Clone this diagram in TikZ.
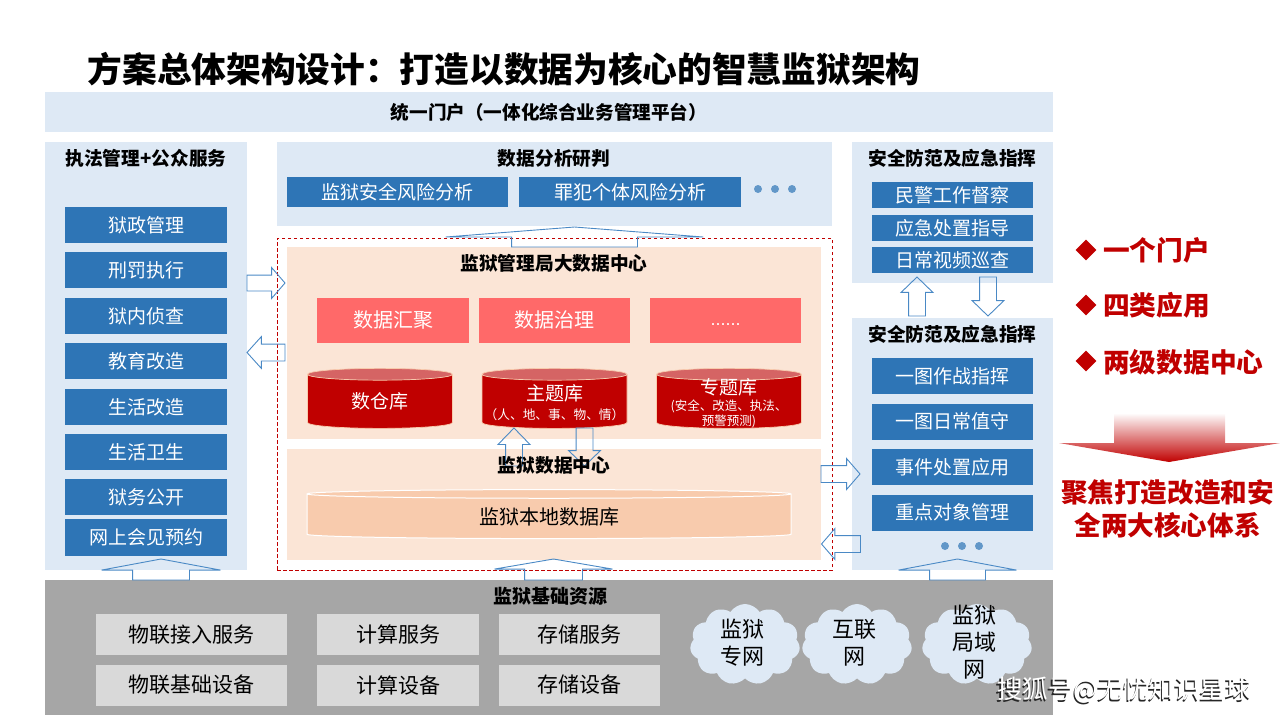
\documentclass[tikz,border=0pt]{standalone}
\usepackage{fontspec}
\setmainfont{Noto Sans CJK SC}
\newfontfamily\latinfont{Liberation Sans}
\usetikzlibrary{shapes.arrows,shapes.geometric,shapes.symbols}
\definecolor{panelblue}{HTML}{DEE9F5}
\definecolor{boxblue}{HTML}{2E75B6}
\definecolor{peach}{HTML}{FBE5D6}
\definecolor{salmon}{HTML}{FF6969}
\definecolor{darkred}{HTML}{C00000}
\definecolor{lightred}{HTML}{D56464}
\definecolor{dbpeach}{HTML}{F8CBAD}
\definecolor{arrowblue}{HTML}{4A89C5}
\definecolor{basegray}{HTML}{A6A6A6}
\definecolor{cellgray}{HTML}{D9D9D9}
\newcommand{\fsz}[1]{\fontsize{#1}{#1}\selectfont}
\newcommand{\storebody}{\phantom{\rule{57pt}{19pt}}}
\tikzset{
  plate/.style 2 args={rectangle,inner sep=0pt,outer sep=0pt,minimum width=#1pt,minimum height=#2pt},
  panel/.style 2 args={plate={#1}{#2},fill=panelblue},
  peachpanel/.style 2 args={plate={#1}{#2},fill=peach},
  bluecell/.style 2 args={plate={#1}{#2},fill=boxblue,text=white,font=\fsz{19}},
  redcell/.style 2 args={plate={#1}{#2},fill=salmon,text=white,font=\fsz{20}},
  graycell/.style 2 args={plate={#1}{#2},fill=cellgray,text=black,font=\fsz{21}},
  heading/.style={inner sep=0pt,font=\fsz{18.7}\bfseries,text=black},
  dot/.style={circle,fill=boxblue!75!white,inner sep=0pt,minimum size=8pt},
  hollow/.style n args={4}{single arrow,draw=arrowblue,line width=0.9pt,inner xsep=0pt,inner ysep={#3/2*1pt},outer sep=0pt,
    minimum height=#1pt,minimum width=#2pt,single arrow head extend={(#2-#3)/2*1pt},
    single arrow tip angle={2*atan(#2/2/#4)},anchor=tip},
  store/.style={cylinder,shape border rotate=90,draw=dbpeach,line width=0.7pt,cylinder uses custom fill,
    cylinder body fill=darkred,cylinder end fill=lightred,minimum width=145pt,minimum height=60pt,
    shape aspect=0.207,inner sep=0pt,outer sep=0pt},
  storetext/.style={inner sep=0pt,text=white,align=center,font=\fsz{19}},
  netcloud/.style={cloud,cloud puffs=11,cloud puff arc=115,aspect=1.36,fill=panelblue,inner sep=0pt,
    minimum width=110pt,minimum height=81pt},
  cloudtext/.style={inner sep=0pt,align=center,font=\fsz{22},text=black},
  point/.style={diamond,fill=darkred,inner sep=0pt,minimum width=21pt,minimum height=21pt},
  slogan/.style={inner sep=0pt,anchor=west,font=\fsz{26.7}\bfseries,text=darkred}
}
\begin{document}
\begin{tikzpicture}[x=1pt,y=-1pt]
  \useasboundingbox (0,0) rectangle (1280,720);
  \node[inner sep=0pt,font=\fsz{34.7}\bfseries] (title) at (504,69) {方案总体架构设计：打造以数据为核心的智慧监狱架构};
  \node[panel={1008}{40},font=\fsz{18.6}\bfseries] (portal) at (549,112) {统一门户（一体化综合业务管理平台）};

  % left column
  \node[panel={202}{428}] (lawpanel) at (146,356) {};
  \node[heading] (lawtitle) at (146,158) {执法管理+公众服务};
  \node[bluecell={162}{36}] (law1) at (146,225) {狱政管理};
  \node[bluecell={162}{36}] (law2) at (146,270) {刑罚执行};
  \node[bluecell={162}{36}] (law3) at (146,316) {狱内侦查};
  \node[bluecell={162}{36}] (law4) at (146,361) {教育改造};
  \node[bluecell={162}{36}] (law5) at (146,407) {生活改造};
  \node[bluecell={162}{36}] (law6) at (146,452) {生活卫生};
  \node[bluecell={162}{36}] (law7) at (146,497) {狱务公开};
  \node[bluecell={162}{37}] (law8) at (146,537.5) {网上会见预约};

  % middle column
  \node[panel={555}{84}] (analysis) at (554.5,184) {};
  \node[heading] (analysistitle) at (554,158) {数据分析研判};
  \node[bluecell={221}{30}] (risk1) at (397.5,192) {监狱安全风险分析};
  \node[bluecell={222}{30}] (risk2) at (630,192) {罪犯个体风险分析};
  \node[dot] (riskdot1) at (758,189) {};
  \node[dot] (riskdot2) at (775,189) {};
  \node[dot] (riskdot3) at (792,189) {};

  \node[plate={555}{332},draw=darkred,dash pattern=on 3.5pt off 2.5pt,line width=0.8pt] (frame) at (554.5,404) {};
  \node[peachpanel={534}{192}] (bureau) at (554,343) {};
  \node[heading] (bureautitle) at (554,263) {监狱管理局大数据中心};
  \node[redcell={152}{45}] (gather) at (393,320) {数据汇聚};
  \node[redcell={151}{45}] (govern) at (554.5,320) {数据治理};
  \node[redcell={151}{45},font=\latinfont\fsz{18},text height=14pt,text depth=4pt] (more) at (725.5,320) {......};
  \node[store] (store1) at (380,401.5) {\storebody};
  \node[store] (store2) at (554.5,401.5) {\storebody};
  \node[store] (store3) at (729,401.5) {\storebody};
  \node[storetext] (store1text) at (380,401) {数仓库};
  \node[storetext] (store2text) at (554.5,403) {主题库\\[0pt]{\fsz{12.7}（人、地、事、物、情）}};
  \node[storetext] (store3text) at (729,403) {专题库\\[-3pt]{\fsz{12.5}(安全、改造、执法、}\\[-4pt]{\fsz{12.5}预警预测)}};

  \node[peachpanel={534}{111}] (prison) at (554,504.5) {};
  \node[store,minimum width=484pt,minimum height=49pt,shape aspect=0.062,draw=white,line width=1pt,
        cylinder body fill=dbpeach,cylinder end fill=dbpeach] (localdb) at (549,516.5) {\phantom{\rule{140pt}{20pt}}};
  \node[storetext,text=black,font=\fsz{20}] (localdbtext) at (549,517) {监狱本地数据库};

  \node[hollow={38}{31}{16}{16}] (arrowup) at (514,428) [rotate=90] {};
  \node[hollow={38}{31}{16}{15}] (arrowdown) at (584.5,466) [rotate=-90] {};
  \node[heading] (prisontitle) at (554,465) {监狱数据中心};

  % right column
  \node[panel={201}{141}] (guardpanel) at (952.5,212.5) {};
  \node[heading] (guardtitle) at (952.5,158) {安全防范及应急指挥};
  \node[bluecell={161}{26}] (guard1) at (952.5,195) {民警工作督察};
  \node[bluecell={161}{26}] (guard2) at (952.5,228) {应急处置指导};
  \node[bluecell={161}{26}] (guard3) at (952.5,260) {日常视频巡查};
  \node[panel={201}{252}] (dutypanel) at (952.5,444) {};
  \node[heading] (dutytitle) at (952.5,334) {安全防范及应急指挥};
  \node[bluecell={161}{36}] (duty1) at (952.5,376) {一图作战指挥};
  \node[bluecell={161}{36}] (duty2) at (952.5,421.5) {一图日常值守};
  \node[bluecell={161}{36}] (duty3) at (952.5,467) {事件处置应用};
  \node[bluecell={161}{36}] (duty4) at (952.5,512.5) {重点对象管理};
  \node[dot] (dutydot1) at (945,546) {};
  \node[dot] (dutydot2) at (962,546) {};
  \node[dot] (dutydot3) at (979,546) {};

  % block arrows
  \node[hollow={20}{257}{125}{10}] (arrowtop) at (574.5,227) [rotate=90] {};
  \node[hollow={38}{30}{15}{13}] (arrowin) at (285,283) {};
  \node[hollow={38}{31}{16}{14}] (arrowout) at (247,352.5) [rotate=180] {};
  \node[hollow={39}{30}{16}{13}] (arrowduty) at (860,474) {};
  \node[hollow={39}{30}{16}{13}] (arrowback) at (821.5,544) [rotate=180] {};
  \node[hollow={39}{31}{16}{15}] (arrowguard) at (917,277) [rotate=90] {};
  \node[hollow={39}{31}{16}{15}] (arrowreturn) at (988,316) [rotate=-90] {};

  % base layer
  \node[plate={1008}{135},fill=basegray] (base) at (549,647.5) {};
  \node[heading,font=\fsz{19}\bfseries] (basetitle) at (550,596) {监狱基础资源};
  \node[graycell={191}{41}] (iot1) at (191.5,634.5) {物联接入服务};
  \node[graycell={191}{41}] (iot2) at (191.5,685) {物联基础设备};
  \node[graycell={162}{41}] (calc1) at (398,634.5) {计算服务};
  \node[graycell={162}{41}] (calc2) at (398,685) {计算设备};
  \node[graycell={161}{41}] (disk1) at (579.5,634.5) {存储服务};
  \node[graycell={161}{41}] (disk2) at (579.5,685) {存储设备};
  \node[netcloud] (net1) at (745,644.5) {};
  \node[netcloud] (net2) at (857,644.5) {};
  \node[netcloud] (net3) at (977,644.5) {};
  \node[cloudtext] (net1text) at (742,642.5) {监狱\\[5pt]专网};
  \node[cloudtext] (net2text) at (854,642.5) {互联\\[5pt]网};
  \node[cloudtext] (net3text) at (974,642.5) {监狱\\[5pt]局域\\[5pt]网};

  \node[hollow={21}{118}{56}{11}] (arrowlaw) at (161,559) [rotate=90] {};
  \node[hollow={21}{117}{57}{10}] (arrowframe) at (553.5,559) [rotate=90] {};
  \node[hollow={21}{117}{55}{11}] (arrowright) at (957.5,559) [rotate=90] {};

  % summary
  \node[point] (point1) at (1086,250) {};
  \node[point] (point2) at (1086,305) {};
  \node[point] (point3) at (1086,361) {};
  \node[slogan] (slogan1) at (1103,250) {一个门户};
  \node[slogan] (slogan2) at (1103,305) {四类应用};
  \node[slogan] (slogan3) at (1103,362) {两级数据中心};
  \shade[top color=white,bottom color=darkred] (1114,413) -- (1225,413) -- (1225,443) -- (1280,443) -- (1169,462) -- (1059,443) -- (1114,443) -- cycle;
  \node[inner sep=0pt,align=center,font=\fsz{26.6}\bfseries,text=darkred] (focus) at (1167.5,509) {聚焦打造改造和安\\[6pt]全两大核心体系};
  \node[inner sep=0pt,font=\fsz{25.5},text=white] (mark) at (1124,691) {\rlap{\kern-1.2pt\raisebox{-1.2pt}{\color{black!85}搜狐号@无忧知识星球}}搜狐号@无忧知识星球};
\end{tikzpicture}
\end{document}
